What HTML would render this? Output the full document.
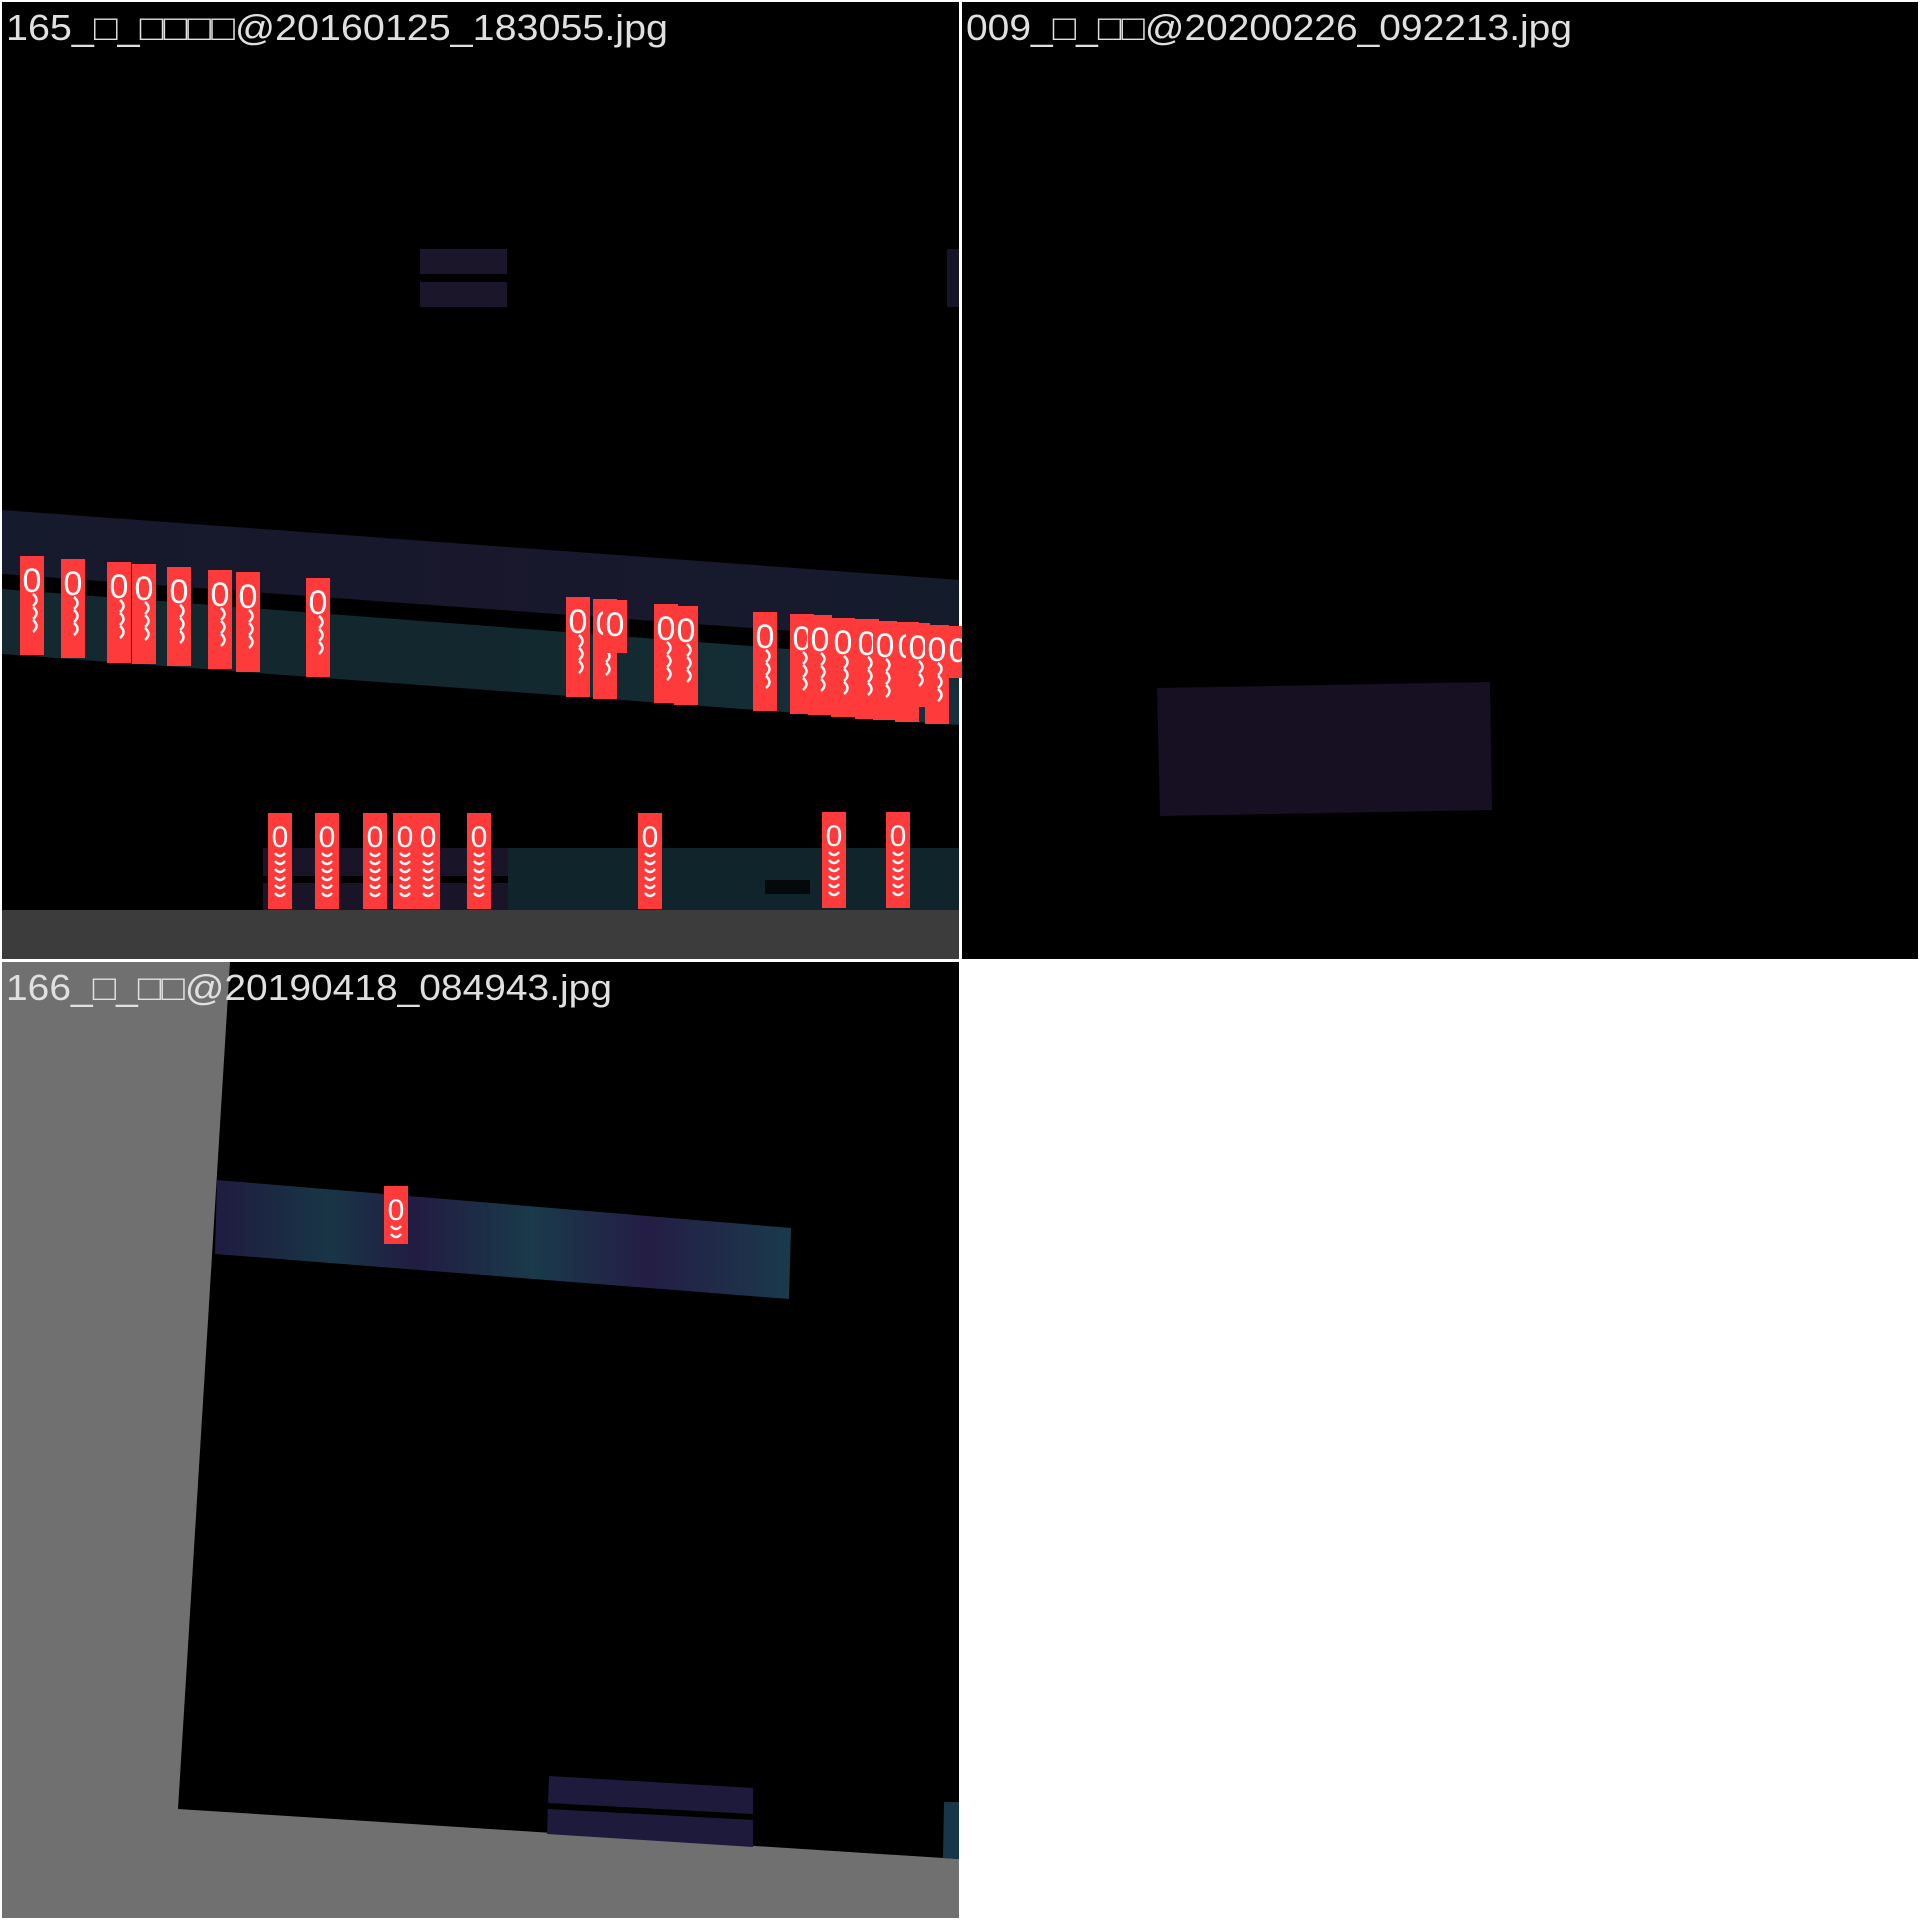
<!DOCTYPE html>
<html><head><meta charset="utf-8"><style>
html,body{margin:0;padding:0;background:#fff;}
svg{display:block;}
text{font-family:"Liberation Sans","DejaVu Sans",sans-serif;}
</style></head><body>
<svg id="mosaic" width="1920" height="1920" viewBox="0 0 1920 1920" xmlns="http://www.w3.org/2000/svg">
<defs>
<linearGradient id="bandA" x1="0" x2="1" y1="0" y2="0">
<stop offset="0" stop-color="#151a2c"/><stop offset="0.5" stop-color="#19172c"/><stop offset="1" stop-color="#141c2c"/>
</linearGradient>
<linearGradient id="bandB" x1="0" x2="1" y1="0" y2="0">
<stop offset="0" stop-color="#13292f"/><stop offset="0.5" stop-color="#12282e"/><stop offset="1" stop-color="#15303a"/>
</linearGradient>
<linearGradient id="bandC" x1="0" x2="1" y1="0" y2="0">
<stop offset="0" stop-color="#1f1c40"/><stop offset="0.2" stop-color="#183545"/><stop offset="0.35" stop-color="#221c42"/>
<stop offset="0.55" stop-color="#193a4a"/><stop offset="0.75" stop-color="#241d45"/><stop offset="1" stop-color="#1a3a4c"/>
</linearGradient>
</defs>
<rect x="0" y="0" width="1920" height="1920" fill="#ffffff"/>

<g>
<rect x="2" y="2" width="957" height="957" fill="#000"/>
<rect x="420" y="249" width="87" height="25" fill="#1b1629"/>
<rect x="420" y="282" width="87" height="25" fill="#1b1629"/>
<rect x="947" y="249" width="12" height="58" fill="#151428"/>
<polygon points="2,510 959,580 959,643 2,574" fill="url(#bandA)"/>
<polygon points="2,589 959,662 959,725 2,654" fill="url(#bandB)"/>
<rect x="263" y="848" width="245" height="62" fill="#1a1428"/>
<rect x="263" y="876" width="245" height="7" fill="#000"/>
<rect x="508" y="848" width="451" height="62" fill="#10252b"/>
<rect x="765" y="880" width="45" height="14" fill="#05090b"/>
<rect x="2" y="910" width="957" height="49" fill="#3c3c3c"/>
<g id="boxes1"></g>
<text x="6" y="40" font-size="36" fill="#e0e0e0" textLength="662" lengthAdjust="spacingAndGlyphs">165_□_□□□□@20160125_183055.jpg</text>
</g>

<g>
<rect x="962" y="2" width="956" height="957" fill="#000"/>
<polygon points="1157,688 1490,682 1492,810 1160,816" fill="#170f22"/>
<text x="966" y="40" font-size="36" fill="#e0e0e0" textLength="606" lengthAdjust="spacingAndGlyphs">009_□_□□@20200226_092213.jpg</text>
</g>

<g>
<rect x="2" y="962" width="957" height="956" fill="#707070"/>
<polygon points="230,962 959,962 959,1859 178,1809" fill="#000"/>
<polygon points="217,1180 791,1228 789,1299 215,1254" fill="url(#bandC)"/>
<polygon points="549,1776 753,1788 753,1847 547,1834" fill="#1e1a3c"/>
<polygon points="548,1803 753,1814 753,1820 548,1809" fill="#000"/>
<polygon points="944,1802 959,1802 959,1859 943,1858" fill="#18364a"/>
<g id="boxes3"></g>
<text x="6" y="1000" font-size="36" fill="#e0e0e0" textLength="606" lengthAdjust="spacingAndGlyphs">166_□_□□@20190418_084943.jpg</text>
</g>

<rect x="961" y="961" width="959" height="959" fill="#fff"/>
</svg>
<script>
const topX = [20,61,107,132,167,208,236,306,566,593,603,654,674,753,790,808,831,855,873,895,906,925,946];
const topY = [556,559,562,564,567,570,572,578,597,599,600,604,606,612,614,615,618,619,621,622,623,625,626];
const topH = [99,99,101,100,99,99,100,99,100,100,53,99,99,99,100,100,99,100,99,100,84,99,52];
const botX = [268,315,363,393,416,467,638,822,886];
const botY = [813,813,813,813,813,813,813,812,812];
const botH = [96,96,96,96,96,96,96,96,96];
const t3X = [384];
const t3Y = [1186];
const t3H = [58];
const NS = "http://www.w3.org/2000/svg";
function drawBox(g, x, y, h, bottomRow){
  const r = document.createElementNS(NS,'rect');
  
  
  r.setAttribute('x', x); r.setAttribute('y', y);
  r.setAttribute('width', 24); r.setAttribute('height', h);
  r.setAttribute('fill', '#ff3a3a');
  g.appendChild(r);
  const t = document.createElementNS(NS,'text');
  
  
  t.setAttribute('x', x + 12); t.setAttribute('y', y + (bottomRow ? 34 : 36));
  t.setAttribute('text-anchor', 'middle');
  t.setAttribute('font-size', bottomRow ? '30' : '34'); t.setAttribute('fill', '#fff');
  t.textContent = '0';
  g.appendChild(t);
  const step = bottomRow ? 8 : 13;
  const n = Math.max(0, Math.floor((h - (bottomRow ? 42 : 52)) / step));
  for (let i = 0; i < n; i++) {
    const a = document.createElementNS(NS,'path');
    
    
    const cy = y + (bottomRow ? 40 : 38) + i * step;
    a.setAttribute('d', bottomRow ? `M${x+7},${cy} Q${x+12},${cy+6} ${x+17},${cy}` : `M${x+13},${cy} Q${x+20},${cy+6} ${x+13},${cy+12}`);
    a.setAttribute('stroke', '#fff'); a.setAttribute('stroke-width', '2.5'); a.setAttribute('fill', 'none');
    g.appendChild(a);
  }
}
const g1 = document.getElementById('boxes1');
for (let i = 0; i < topX.length; i++) drawBox(g1, topX[i], topY[i], topH[i], false);
for (let i = 0; i < botX.length; i++) drawBox(g1, botX[i], botY[i], botH[i], true);
const g3 = document.getElementById('boxes3');
for (let i = 0; i < t3X.length; i++) drawBox(g3, t3X[i], t3Y[i], t3H[i], true);
</script>
</body></html>
